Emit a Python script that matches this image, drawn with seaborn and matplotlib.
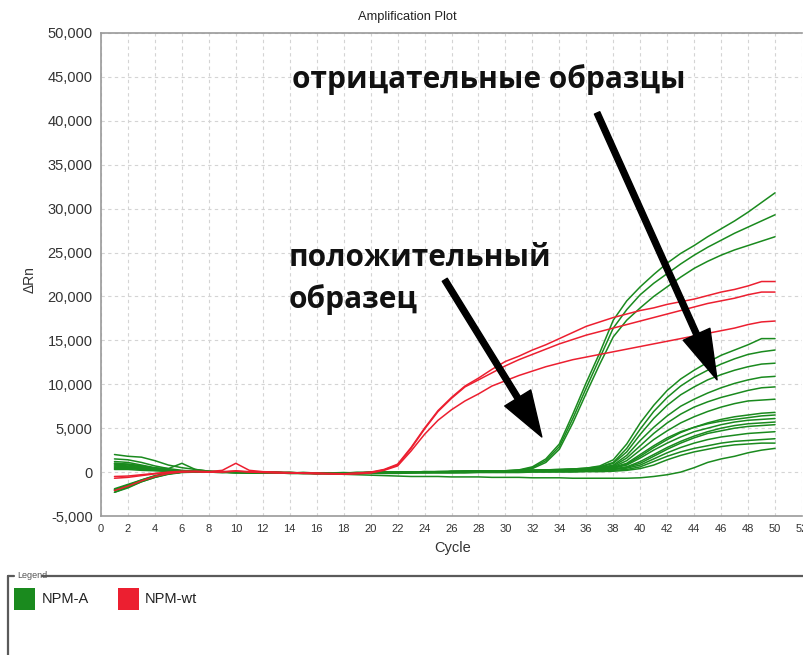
import matplotlib
matplotlib.use("Agg")
import matplotlib.pyplot as plt
from matplotlib.lines import Line2D
from matplotlib.patches import Rectangle
from matplotlib.ticker import FuncFormatter
import numpy as np
import pandas as pd
import seaborn as sns

# ---- data: delta Rn per cycle (cycles 1..50) ----
cycles = list(range(1, 51))

targets = ["NPM-A", "NPM-wt"]
target_colors = {"NPM-A": "#1a8a1e", "NPM-wt": "#ec1f30"}

# NPM-wt wells
wt_1 = [-500, -450, -300, -150, 0, 100, 50, 0, 50, 150, 50, 0, -50, -100, -100, -150, -150, -200, -100, 0,
        300, 900, 2800, 5000, 7000, 8500, 9800, 10700, 11700, 12600, 13200, 13900, 14500, 15200, 15900, 16600, 17100, 17600, 18000, 18400,
        18700, 19100, 19400, 19700, 20100, 20500, 20800, 21200, 21700, 21700]
wt_2 = [-700, -600, -400, -200, -50, 50, 100, 50, 200, 1000, 200, 50, 0, -50, -100, -100, -200, -200, -150, -50,
        250, 800, 2700, 4900, 6900, 8400, 9700, 10500, 11300, 12100, 12800, 13400, 14000, 14600, 15100, 15600, 16000, 16400, 16800, 17200,
        17600, 18000, 18400, 18800, 19200, 19500, 19800, 20200, 20500, 20500]
wt_3 = [-2100, -1600, -1000, -500, -150, 0, 50, 0, 0, 100, 0, -50, -100, -100, -150, -200, -200, -250, -200, -100,
        200, 700, 2400, 4300, 5900, 7100, 8100, 8900, 9800, 10400, 11000, 11500, 12000, 12400, 12800, 13100, 13400, 13700, 14000, 14300,
        14600, 14900, 15200, 15500, 15800, 16100, 16400, 16800, 17100, 17200]

# NPM-A wells: three early risers
a_01 = [600, 500, 400, 250, 100, 50, 0, 50, 0, -50, 0, -50, -50, -100, -50, -100, -100, -50, -100, -50,
        -50, 0, 0, 50, 0, 50, 50, 100, 100, 150, 250, 600, 1500, 3200, 6600, 10200, 13600, 17300, 19500, 21100,
        22500, 23800, 24900, 25800, 26800, 27700, 28600, 29600, 30700, 31800]
a_02 = [-2000, -1500, -900, -400, -100, 50, 0, 0, -50, 0, -50, -50, -100, -100, -100, -150, -100, -100, -100, -50,
        -50, -50, 0, 0, 0, 50, 50, 50, 100, 100, 200, 500, 1300, 2900, 6100, 9600, 13000, 16400, 18500, 20200,
        21500, 22600, 23700, 24700, 25600, 26400, 27200, 27900, 28600, 29300]
a_03 = [1000, 900, 700, 400, 200, 100, 50, 0, 0, -50, -50, -100, -100, -50, -100, -100, -150, -100, -100, -50,
        -50, -50, 0, 0, 0, 0, 50, 50, 50, 100, 150, 400, 1100, 2600, 5600, 9000, 12300, 15400, 17300, 18700,
        20000, 21100, 22200, 23200, 24000, 24700, 25300, 25800, 26300, 26800]
# NPM-A wells: late risers
a_04 = [2000, 1800, 1700, 1300, 800, 500, 300, 100, 50, 0, 0, -50, -50, -100, -100, -100, -150, -100, -100, -50,
        0, 0, 0, 50, 50, 50, 100, 100, 150, 150, 200, 200, 250, 300, 350, 450, 700, 1400, 3200, 5600,
        7600, 9300, 10600, 11600, 12500, 13300, 13900, 14500, 15200, 15200]
a_05 = [-2300, -1800, -1100, -600, -200, 0, 50, 0, 0, -50, -50, -100, -50, -100, -100, -150, -100, -100, -50, -50,
        0, 0, 0, 50, 50, 100, 100, 100, 150, 150, 200, 200, 250, 300, 350, 450, 600, 1100, 2700, 4900,
        6900, 8500, 9800, 10800, 11600, 12300, 12900, 13400, 13700, 13900]
a_06 = [800, 700, 500, 300, 150, 100, 50, 0, 50, 0, -50, 0, -50, -50, -100, -100, -100, -150, -100, -100,
        -50, -50, 0, 0, 0, 50, 50, 50, 100, 100, 150, 150, 200, 250, 300, 400, 550, 1000, 2300, 4300,
        6100, 7600, 8800, 9700, 10500, 11100, 11600, 12000, 12300, 12400]
a_07 = [1200, 1100, 800, 500, 400, 1000, 300, 100, 50, 0, 0, -50, -50, -100, -50, -100, -100, -100, -50, -50,
        -50, 0, 0, 0, 50, 50, 50, 100, 100, 150, 150, 200, 200, 250, 300, 350, 500, 800, 1900, 3600,
        5100, 6400, 7500, 8300, 9000, 9600, 10100, 10500, 10800, 10900]
a_08 = [-2000, -1500, -1000, -500, -150, 0, 50, 50, 0, 0, -50, -50, -100, -100, -150, -100, -150, -100, -100, -50,
        -50, 0, 0, 0, 50, 50, 100, 100, 100, 150, 150, 200, 200, 250, 300, 350, 450, 700, 1600, 3000,
        4400, 5600, 6600, 7400, 8000, 8500, 8900, 9300, 9600, 9700]
a_09 = [500, 500, 400, 250, 100, 50, 50, 0, 0, 50, 0, -50, -50, -50, -100, -100, -100, -100, -100, -50,
        -50, -50, 0, 0, 0, 50, 50, 50, 100, 100, 150, 150, 200, 200, 250, 300, 400, 600, 1300, 2500,
        3700, 4700, 5600, 6300, 6900, 7400, 7800, 8100, 8200, 8300]
a_10 = [900, 800, 600, 350, 200, 100, 50, 0, 0, 0, -50, -50, -50, -100, -100, -150, -100, -100, -100, -50,
        -50, -50, -50, 0, 0, 0, 50, 50, 50, 100, 100, 150, 150, 200, 250, 300, 350, 500, 900, 1800,
        2800, 3700, 4500, 5100, 5600, 6000, 6300, 6500, 6700, 6800]
a_11 = [-2100, -1600, -1000, -500, -200, 0, 0, 50, 0, 0, -50, -50, -50, -100, -100, -100, -150, -150, -100, -100,
        -50, -50, 0, 0, 0, 50, 50, 50, 100, 100, 100, 150, 150, 200, 250, 300, 400, 550, 1000, 2000,
        3000, 3900, 4600, 5100, 5500, 5800, 6000, 6200, 6400, 6500]
a_12 = [700, 600, 500, 300, 150, 100, 50, 50, 0, 0, 0, -50, -50, -50, -100, -100, -100, -100, -50, -50,
        -50, 0, 0, 0, 0, 50, 50, 50, 50, 100, 100, 100, 150, 150, 200, 250, 300, 450, 800, 1600,
        2500, 3300, 4000, 4600, 5000, 5400, 5700, 5900, 6000, 6100]
a_13 = [400, 400, 300, 200, 100, 50, 0, 0, 0, -50, -50, -50, -100, -100, -100, -100, -150, -100, -100, -100,
        -50, -50, -50, 0, 0, 0, 0, 50, 50, 50, 100, 100, 100, 150, 150, 200, 250, 350, 600, 1200,
        2000, 2800, 3500, 4100, 4600, 5000, 5300, 5500, 5600, 5700]
a_14 = [-2300, -1700, -1100, -600, -250, -50, 0, 0, 0, -50, -50, -100, -100, -100, -150, -150, -150, -100, -100, -100,
        -100, -50, -50, -50, 0, 0, 0, 50, 50, 50, 50, 100, 100, 150, 150, 200, 250, 350, 550, 1000,
        1800, 2600, 3300, 3900, 4400, 4700, 5000, 5200, 5300, 5400]
a_15 = [1000, 900, 700, 450, 250, 150, 100, 50, 0, 0, -50, -50, -50, -100, -100, -100, -100, -150, -100, -100,
        -50, -50, -50, 0, 0, 0, 0, 50, 50, 50, 50, 100, 100, 100, 150, 150, 200, 300, 450, 800,
        1500, 2200, 2800, 3300, 3700, 4000, 4200, 4400, 4500, 4600]
a_16 = [300, 300, 200, 150, 100, 50, 0, 0, -50, -50, -50, -100, -100, -100, -100, -150, -150, -150, -100, -100,
        -100, -100, -50, -50, -50, -50, 0, 0, 0, 0, 50, 50, 50, 100, 100, 100, 150, 200, 300, 600,
        1200, 1800, 2300, 2700, 3000, 3300, 3500, 3600, 3700, 3800]
a_17 = [-1900, -1400, -900, -450, -150, 0, 50, 0, 0, -50, -100, -100, -100, -150, -150, -150, -150, -200, -150, -150,
        -150, -150, -100, -100, -100, -100, -100, -50, -50, -50, -50, 0, 0, 0, 0, 50, 50, 100, 200, 400,
        800, 1400, 1900, 2300, 2600, 2900, 3100, 3200, 3300, 3300]
a_18 = [1500, 1400, 1100, 700, 400, 200, 100, 50, 0, -50, -50, -100, -100, -150, -150, -200, -200, -250, -300, -350,
        -400, -450, -500, -500, -500, -550, -550, -550, -600, -600, -600, -650, -650, -650, -700, -700, -700, -700, -700, -650,
        -500, -300, 0, 500, 1100, 1500, 1800, 2200, 2500, 2700]

wells = {
    "NPM-A": [a_01, a_02, a_03, a_04, a_05, a_06, a_07, a_08, a_09, a_10,
              a_11, a_12, a_13, a_14, a_15, a_16, a_17, a_18],
    "NPM-wt": [wt_1, wt_2, wt_3],
}

# long-form table for seaborn
rows = []
for target, series in wells.items():
    for i, vals in enumerate(series):
        for c, v in zip(cycles, vals):
            rows.append({"Cycle": c, "dRn": v, "target": target, "well": f"{target}-{i}"})
df = pd.DataFrame(rows)

# ---- figure ----
sns.set_theme(style="white")
plt.rcParams["font.family"] = ["Liberation Sans", "DejaVu Sans"]

W, H = 804, 655
fig = plt.figure(figsize=(W / 100, H / 100), dpi=100)
fig.patch.set_facecolor("white")

def fx(px):
    return px / W

def fy(py):
    return 1 - py / H

ax = fig.add_axes([fx(101), fy(516), fx(802) - fx(101), fy(33) - fy(516)])
ax.set_facecolor("white")

for target in targets:
    sub = df[df["target"] == target]
    sns.lineplot(data=sub, x="Cycle", y="dRn", units="well", estimator=None,
                 color=target_colors[target], linewidth=1.1, legend=False, ax=ax,
                 sort=False)

ax.set_xlim(0, 52)
ax.set_ylim(-5000, 50000)
ax.set_xticks(range(0, 53, 2))
ax.set_yticks(range(-5000, 50001, 5000))
ax.yaxis.set_major_formatter(FuncFormatter(lambda v, p: f"{int(v):,}"))
ax.set_xlabel("")
ax.set_ylabel("")

ax.grid(True, which="major", color="#d4d4d4", linestyle=(0, (3, 3)), linewidth=0.8)
ax.set_axisbelow(True)
for side in ["left", "bottom", "top"]:
    ax.spines[side].set_color("#9a9a9a")
    ax.spines[side].set_linewidth(1.2)
ax.spines["right"].set_visible(False)
ax.tick_params(axis="both", which="major", direction="out", length=4, width=1,
               color="#9a9a9a", labelcolor="#333333", pad=2)
ax.tick_params(axis="y", labelsize=10.5)
ax.tick_params(axis="x", labelsize=8)
for lab in ax.get_xticklabels():
    lab.set_fontfamily(["Liberation Sans Narrow", "Liberation Sans", "DejaVu Sans"])

# titles and axis names
fig.text(fx(407), fy(17), "Amplification Plot", ha="center", va="center",
         fontsize=9.3, color="#222222")
fig.text(fx(453), fy(548), "Cycle", ha="center", va="center", fontsize=10.5, color="#333333")
fig.text(fx(30), fy(280), "ΔRn", ha="center", va="center", rotation=90,
         fontsize=10, color="#333333")

# callouts
bold_family = ["Open Sans", "DejaVu Sans"]
callout_kw = dict(ha="left", va="center", fontsize=21.5, fontweight="bold",
                  family=bold_family, color="#111111")
fig.text(fx(292), fy(80), "отрицательные образцы", **callout_kw)
fig.text(fx(289), fy(258), "положительный", **callout_kw)
fig.text(fx(289), fy(300), "образец", **callout_kw)

arrow_kw = dict(facecolor="black", edgecolor="black", width=4.2, headwidth=21,
                headlength=36, shrink=0)
ax.annotate("", xy=(45.7, 10500), xytext=(36.8, 40900), arrowprops=arrow_kw)
ax.annotate("", xy=(32.7, 4000), xytext=(25.5, 21900),
            arrowprops=dict(arrow_kw, headwidth=22, headlength=33))

# legend panel
edge = "#5a5a5a"
fig.add_artist(Line2D([fx(42), fx(804)], [fy(576), fy(576)], color=edge, lw=1.6))
fig.add_artist(Line2D([fx(8), fx(8)], [fy(576), fy(655)], color=edge, lw=1.6))
fig.add_artist(Line2D([fx(8), fx(14)], [fy(576), fy(576)], color=edge, lw=1.6))
fig.text(fx(17), fy(576), "Legend", ha="left", va="center", fontsize=6.5, color="#555555")

swatch_x = [14, 118]
label_x = [42, 145]
for target, sx, lx in zip(targets, swatch_x, label_x):
    fig.add_artist(Rectangle((fx(sx), fy(610)), fx(21), fy(588) - fy(610),
                             facecolor=target_colors[target], edgecolor="none",
                             transform=fig.transFigure))
    fig.text(fx(lx), fy(599), target, ha="left", va="center", fontsize=10.5, color="#222222")

fig.savefig("out.png", dpi=100, facecolor="white")
